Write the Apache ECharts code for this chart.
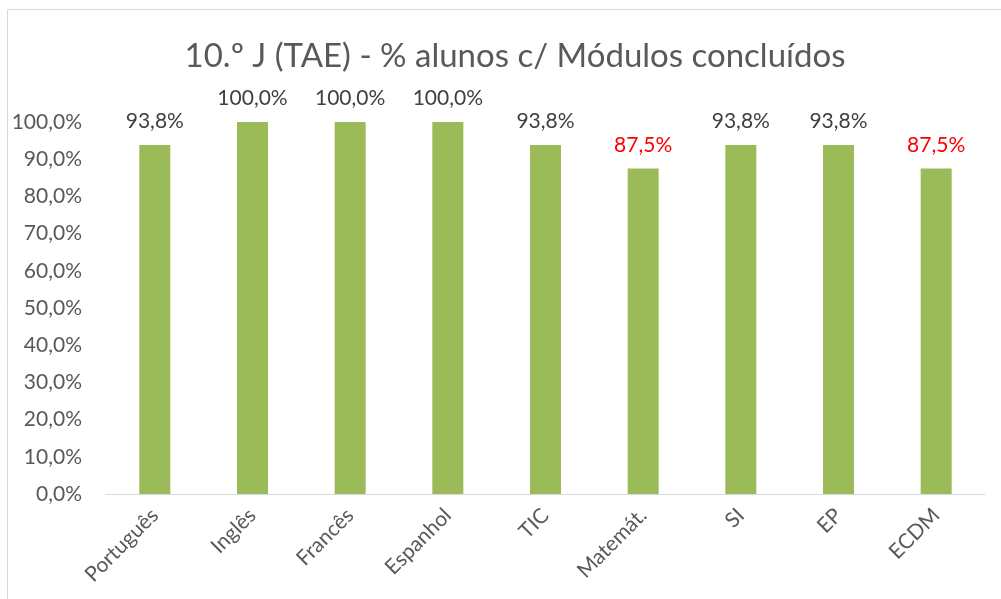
<!DOCTYPE html>
<html>
<head>
<meta charset="utf-8">
<script src="https://cdn.jsdelivr.net/npm/echarts@6/dist/echarts.min.js"></script>
<style>
  html, body { margin: 0; padding: 0; background: #fff; }
  #chart { width: 1001px; height: 599px; }
</style>
</head>
<body>
<div id="chart"></div>
<script>
// Disciplinas e percentagem de alunos com módulos concluídos
const categories = ['Português', 'Inglês', 'Francês', 'Espanhol', 'TIC', 'Matemát.', 'SI', 'EP', 'ECDM'];
const values = [93.8, 100.0, 100.0, 100.0, 93.8, 87.5, 93.8, 93.8, 87.5];
const yTicks = [0, 10, 20, 30, 40, 50, 60, 70, 80, 90, 100];

const FONT = 'Lato';
const fmt = v => v.toFixed(1).replace('.', ',') + '%';

const chart = echarts.init(document.getElementById('chart'), null, { renderer: 'canvas' });

chart.setOption({
  backgroundColor: '#ffffff',
  animation: false,
  graphic: [{
    type: 'rect',
    shape: { x: 7.5, y: 9.5, width: 1100, height: 700 },
    style: { fill: 'none', stroke: '#d9d9d9', lineWidth: 1 },
    silent: true,
    z: -1
  }],
  title: {
    text: '10.º J (TAE) - % alunos c/ Módulos concluídos',
    left: 510,
    textAlign: 'center',
    top: 35,
    textStyle: { fontFamily: FONT, fontSize: 33, fontWeight: 'normal', color: '#595959' }
  },
  grid: { left: 106, right: 16, top: 122, bottom: 105 },
  xAxis: {
    type: 'category',
    data: categories,
    axisLine: { show: true, lineStyle: { color: '#d9d9d9', width: 1 } },
    axisTick: { show: false },
    axisLabel: {
      rotate: 45,
      margin: 18,
      fontFamily: FONT,
      fontSize: 21,
      color: '#595959'
    }
  },
  yAxis: {
    type: 'value',
    min: yTicks[0],
    max: yTicks[yTicks.length - 1],
    interval: 10,
    axisLine: { show: false },
    axisTick: { show: false },
    splitLine: { show: false },
    axisLabel: {
      margin: 24,
      fontFamily: FONT,
      fontSize: 21,
      color: '#595959',
      formatter: v => fmt(v)
    }
  },
  series: [{
    type: 'bar',
    data: values.map(v => ({
      value: v,
      label: { color: v < 90 ? '#ff0000' : '#404040' }
    })),
    barWidth: 31,
    itemStyle: { color: '#9bbb59' },
    label: {
      show: true,
      position: 'top',
      distance: 13,
      fontFamily: FONT,
      fontSize: 21,
      formatter: p => fmt(p.value)
    }
  }]
});
</script>
</body>
</html>
